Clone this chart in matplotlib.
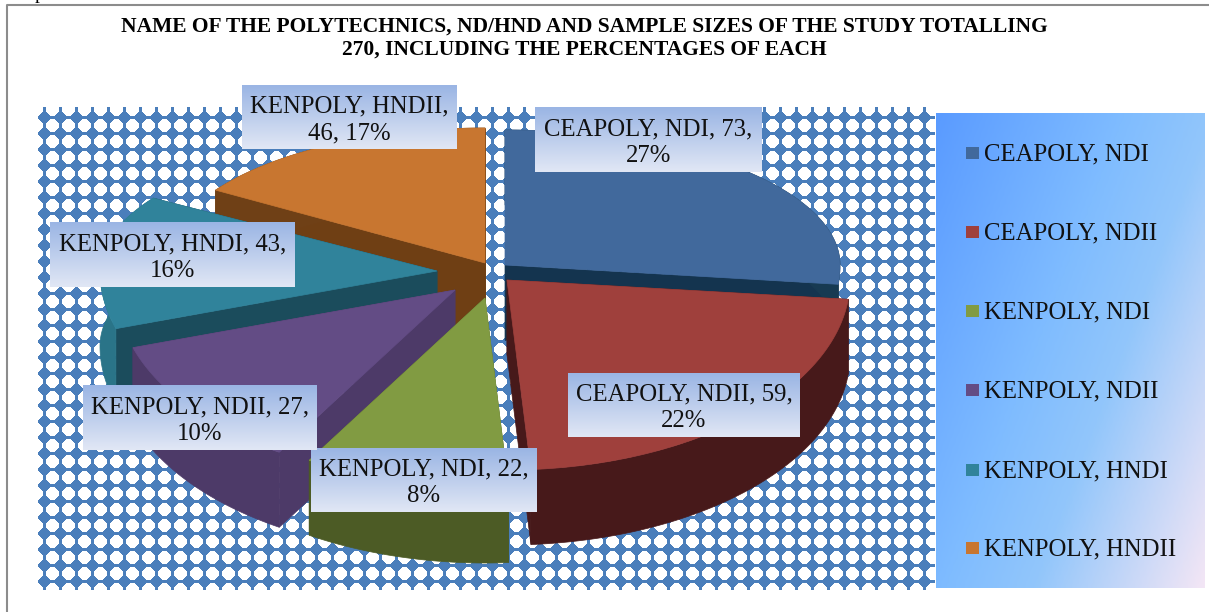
import numpy as np
import matplotlib
matplotlib.use('Agg')
import matplotlib.pyplot as plt
from matplotlib.patches import Polygon, Rectangle
from matplotlib.colors import LinearSegmentedColormap

plt.rcParams['font.family'] = ['Liberation Serif', 'DejaVu Serif']

# data
names = ['CEAPOLY, NDI', 'CEAPOLY, NDII', 'KENPOLY, NDI', 'KENPOLY, NDII', 'KENPOLY, HNDI', 'KENPOLY, HNDII']
values = [73, 59, 22, 27, 43, 46]
title = 'NAME OF THE POLYTECHNICS, ND/HND AND SAMPLE SIZES OF THE STUDY TOTALLING\n270, INCLUDING THE PERCENTAGES OF EACH'

# look of each slice, same order as names
top_colors = ['#41699c', '#9f403c', '#819b42', '#634c85', '#30839b', '#c87630']
outer_colors = ['#173a52', '#47191a', '#4c5b25', '#4d3a68', '#2a7488', '#6f4016']
cut_colors = ['#14344f', '#47191a', '#4c5b25', '#4d3a68', '#1b4c5c', '#6f3f14']
apex = [(505, 265), (507, 280), (485, 298), (455, 290), (437, 271), (485, 263)]
radius_x = [335, 343, 338, 338, 337, 320]
label_boxes = [(535, 107, 762, 172), (568, 373, 800, 437), (311, 448, 537, 512),
               (83, 385, 317, 450), (50, 222, 295, 287), (242, 85, 457, 149)]
break_after_value = [True, True, True, True, True, False]
legend_y = [153, 232, 311, 390, 470, 548]
draw_order = [5, 0, 4, 3, 1, 2]
# the 3d view pulls the slice edges a little round
view_shift = [0, -1.5, 0, 6, 11, 4, 0]

ry_back, ry_front, depth = 135, 190, 75

fig = plt.figure(figsize=(12.09, 6.12), dpi=100)
ax = fig.add_axes([0, 0, 1, 1])
ax.axis('off')


def gradient(box, colors, weight=0.0, z=5):
    l, t, r, b = box
    yy, xx = np.mgrid[0:1:120j, 0:1:120j]
    g = weight * xx + (1 - weight) * yy
    cmap = LinearSegmentedColormap.from_list('g', colors)
    ax.imshow(g, extent=(l, r, b, t), cmap=cmap, aspect='auto', zorder=z, vmin=0, vmax=1)


# patterned background
l, t, r, b = 38, 107, 935, 590
yy, xx = np.mgrid[t:b, l:r]
dx = np.abs((xx - 52 + 8) % 16 - 8)
dy = np.abs((yy - 125 + 8) % 16 - 8)
white = (dx + dy <= 8) & (np.maximum(dx, dy) <= 6)
tile = np.where(white[..., None], np.array([255, 255, 255]), np.array([74, 126, 187])).astype(np.uint8)
ax.imshow(tile, extent=(l, r, b, t), interpolation='nearest', aspect='auto', zorder=1)

# frame of the chart
ax.plot([7, 7, 1209], [612, 5, 5], color='#8c8c8c', lw=1.5, zorder=2)
ax.text(35, -1, 'p', fontsize=14, va='baseline', clip_on=True, zorder=2)

ax.text(584, 38, title, ha='center', va='center', fontsize=15.5, fontweight='bold',
        linespacing=1.17, zorder=2)


def arc(cx, cy, rx, a0, a1, dz=0):
    th = np.radians(np.linspace(a0, a1, 80))
    ry = np.where(np.cos(th) > 0, ry_back, ry_front)
    return np.column_stack([cx + rx * np.sin(th), cy - ry * np.cos(th) + dz])


# slices, angles run clockwise from the top
edges = np.concatenate([[0], np.cumsum(values)]) / sum(values) * 360 + np.array(view_shift)
for i in draw_order:
    cx, cy = apex[i]
    a0, a1 = edges[i], edges[i + 1]
    rim = arc(cx, cy, radius_x[i], a0, a1)
    rim_low = arc(cx, cy, radius_x[i], a0, a1, depth)
    z = 3 + draw_order.index(i) * 0.1
    for end in (0, -1):
        wall = [(cx, cy), rim[end], rim_low[end], (cx, cy + depth)]
        ax.add_patch(Polygon(wall, closed=True, fc=cut_colors[i], ec=cut_colors[i], lw=0.5, zorder=z))
    ax.add_patch(Polygon(np.vstack([rim, rim_low[::-1]]), closed=True, fc=outer_colors[i],
                         ec=outer_colors[i], lw=0.5, zorder=z))
    ax.add_patch(Polygon(np.vstack([[(cx, cy)], rim]), closed=True, fc=top_colors[i],
                         ec=top_colors[i], lw=0.5, zorder=z + 0.01))

# data labels
for i, box in enumerate(label_boxes):
    gradient(box, ['#9ab5e4', '#e1e7f5'])
    pct = round(values[i] / sum(values) * 100)
    if break_after_value[i]:
        s = f'{names[i]}, {values[i]},\n{pct}%'
    else:
        s = f'{names[i]},\n{values[i]}, {pct}%'
    ax.text((box[0] + box[2]) / 2, (box[1] + box[3]) / 2 + 3, s, ha='center', va='center',
            fontsize=17.8, linespacing=1.25, color='#111111', zorder=6)

# legend
gradient((936, 113, 1205, 588), [(0, '#5a9bff'), (0.42, '#7fbcff'), (0.62, '#92c6fb'), (1, '#f3e6f5')], weight=0.6)
for i, y in enumerate(legend_y):
    ax.add_patch(Rectangle((966, y - 6), 13, 12, fc=top_colors[i], ec='none', zorder=6))
    ax.text(984, y + 1, names[i], fontsize=17.8, va='center', color='#111111', zorder=6)

ax.set_xlim(0, 1209)
ax.set_ylim(612, 0)
fig.savefig('out.png', dpi=100)
